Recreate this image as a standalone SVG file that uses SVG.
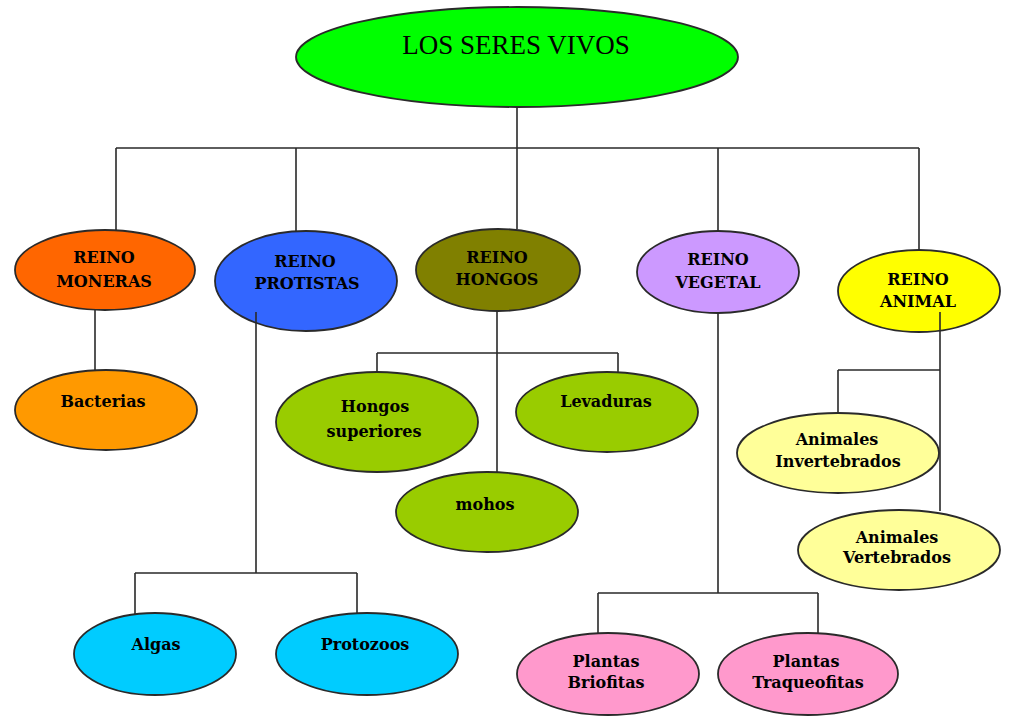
<svg xmlns="http://www.w3.org/2000/svg" width="1035" height="725" viewBox="0 0 1035 725">
<style>
.n{stroke:#2a2a2a;stroke-width:1.8}
.t{font-family:"DejaVu Serif","Liberation Serif",serif;font-weight:bold;font-size:16px;fill:#000;text-anchor:middle}
.title{font-family:"Liberation Serif",serif;font-size:27px;fill:#000;text-anchor:middle}
.c{stroke:#2a2a2a;stroke-width:1.6;fill:none}
</style>
<rect width="1035" height="725" fill="#fff"/>
<g id="root"><ellipse class="n" cx="517" cy="57" rx="221" ry="50" fill="#00ff00"/><text class="title" x="516" y="54">LOS SERES VIVOS</text></g>
<g id="moneras"><ellipse class="n" cx="105" cy="270" rx="90" ry="40" fill="#ff6600"/><text class="t" x="104" y="263">REINO</text><text class="t" x="104" y="287">MONERAS</text></g>
<g id="protistas"><ellipse class="n" cx="306" cy="281" rx="91" ry="50" fill="#3366ff"/><text class="t" x="305" y="267">REINO</text><text class="t" x="307" y="289">PROTISTAS</text></g>
<g id="hongos"><ellipse class="n" cx="498" cy="270" rx="82" ry="41" fill="#808000"/><text class="t" x="497" y="263">REINO</text><text class="t" x="497" y="285">HONGOS</text></g>
<g id="vegetal"><ellipse class="n" cx="718" cy="272" rx="81" ry="41" fill="#cc99ff"/><text class="t" x="718" y="265">REINO</text><text class="t" x="718" y="288">VEGETAL</text></g>
<g id="animal"><ellipse class="n" cx="919" cy="291" rx="81" ry="41" fill="#ffff00"/><text class="t" x="918" y="285">REINO</text><text class="t" x="918" y="307">ANIMAL</text></g>
<g id="bacterias"><ellipse class="n" cx="106" cy="410" rx="91" ry="40" fill="#ff9900"/><text class="t" x="103" y="407">Bacterias</text></g>
<g id="hongos-superiores"><ellipse class="n" cx="377" cy="422" rx="101" ry="50" fill="#99cc00"/><text class="t" x="375" y="412">Hongos</text><text class="t" x="374" y="437">superiores</text></g>
<g id="levaduras"><ellipse class="n" cx="607" cy="412" rx="91" ry="40" fill="#99cc00"/><text class="t" x="606" y="407">Levaduras</text></g>
<g id="mohos"><ellipse class="n" cx="487" cy="512" rx="91" ry="40" fill="#99cc00"/><text class="t" x="485" y="510">mohos</text></g>
<g id="invertebrados"><ellipse class="n" cx="838" cy="453" rx="101" ry="40" fill="#ffff99"/><text class="t" x="837" y="445">Animales</text><text class="t" x="838" y="467">Invertebrados</text></g>
<g id="vertebrados"><ellipse class="n" cx="899" cy="550" rx="101" ry="40" fill="#ffff99"/><text class="t" x="897" y="543">Animales</text><text class="t" x="897" y="563">Vertebrados</text></g>
<g id="algas"><ellipse class="n" cx="155" cy="654" rx="81" ry="41" fill="#00ccff"/><text class="t" x="156" y="650">Algas</text></g>
<g id="protozoos"><ellipse class="n" cx="367" cy="654" rx="91" ry="41" fill="#00ccff"/><text class="t" x="365" y="650">Protozoos</text></g>
<g id="briofitas"><ellipse class="n" cx="608" cy="674" rx="91" ry="41" fill="#ff99cc"/><text class="t" x="606" y="667">Plantas</text><text class="t" x="606" y="688">Briofitas</text></g>
<g id="traqueofitas"><ellipse class="n" cx="808" cy="674" rx="90" ry="41" fill="#ff99cc"/><text class="t" x="806" y="667">Plantas</text><text class="t" x="808" y="688">Traqueofitas</text></g>
<g id="connectors">
<path class="c" d="M517 107V148M116 148H919M116 148V230M296 148V232M517 148V229M718 148V232M919 148V250"/>
<path class="c" d="M95 310V370"/>
<path class="c" d="M497 311V472M377 353H618M377 353V372M618 353V373"/>
<path class="c" d="M256 312V573M135 573H357M135 573V614M357 573V613"/>
<path class="c" d="M718 313V593M598 593H818M598 593V634M818 593V634"/>
<path class="c" d="M940 312V511M838 370H940M838 370V413"/>
</g>
</svg>
